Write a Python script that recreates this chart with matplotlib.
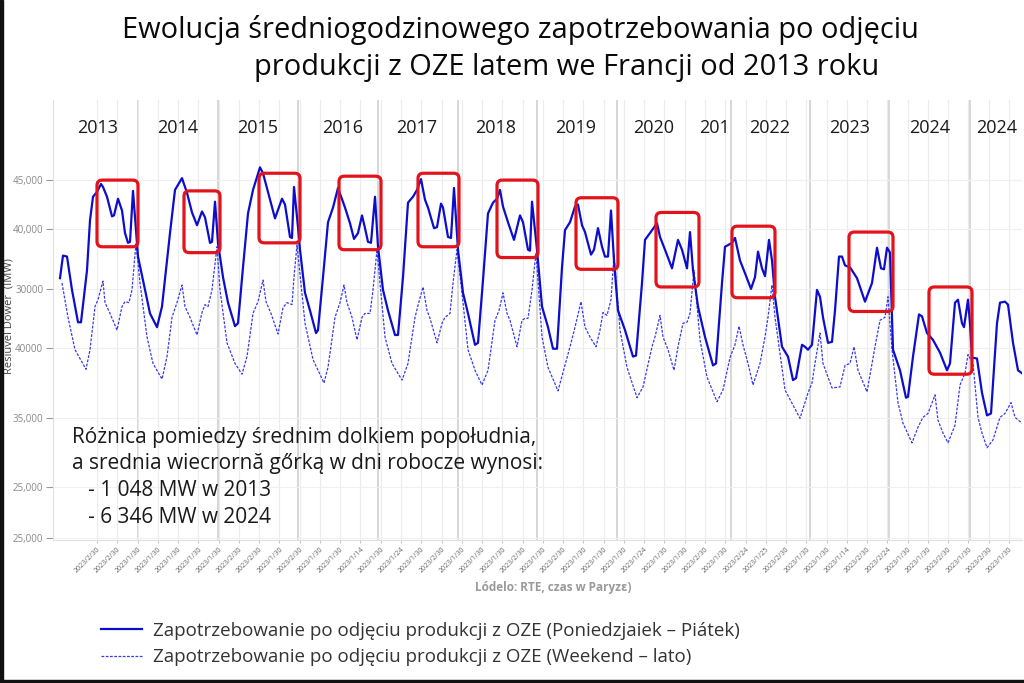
import numpy as np
import matplotlib
matplotlib.use("Agg")
import matplotlib.pyplot as plt
from matplotlib.patches import FancyBboxPatch, Rectangle
from matplotlib.transforms import blended_transform_factory

plt.rcParams['font.family'] = ['Open Sans', 'DejaVu Sans']

# --- dane: godzina (ciagla os czasu) i zapotrzebowanie po odjeciu OZE [MW] ---
# dni robocze (Poniedzialek - Piatek)
godz_robocze = [
    # 2013
    0.6, 1.5, 2.7, 4.2, 6.0, 6.9, 8.7, 9.6, 10.5, 11.7, 12.9, 13.5, 14.7, 16.2, 16.8,
    18.0, 19.2, 20.1, 21.0, 21.6, 22.5, 23.1, 24.0,
    # 2014
    26.1, 27.6, 29.7, 31.2, 33.6, 35.1, 37.2, 38.7, 40.2, 41.7, 43.2, 44.1, 45.6, 46.2,
    47.1, 48.0,
    # 2015
    49.5, 51.0, 53.1, 54.0, 55.5, 57.0, 58.5, 60.6, 61.5, 63.0, 65.1, 67.2, 68.1, 69.6,
    70.2, 70.8, 72.0, 72.6,
    # 2016
    74.1, 75.6, 77.4, 78.0, 79.5, 81.0, 82.5, 84.0, 86.1, 87.6, 88.8, 90.0, 91.2, 92.1,
    93.0, 93.9, 95.1, 96.0,
    # 2017
    97.5, 99.0, 101.1, 102.0, 103.5, 105.0, 106.5, 107.7, 108.9, 110.1, 111.0, 112.8,
    113.7, 114.9, 115.5, 117.0, 117.9, 118.8, 120.0,
    # 2018
    121.5, 123.0, 125.1, 126.0, 127.5, 129.0, 130.5, 131.7, 132.6, 133.5, 135.0, 136.8,
    138.6, 139.5, 141.0, 141.6, 142.2, 143.7,
    # 2019
    145.2, 147.0, 148.5, 149.7, 151.2, 152.1, 153.6, 155.1, 156.0, 157.2, 158.1, 159.9,
    160.8, 162.0, 163.2, 164.1, 165.0, 165.9, 166.8, 168.0,
    # 2020
    170.1, 172.5, 173.4, 175.2, 176.1, 177.6, 179.7, 180.6, 182.1, 184.2, 186.0, 187.2,
    188.7, 189.6, 190.5, 192.0,
    # 2022
    194.1, 196.5, 197.4, 199.2, 200.1, 202.2, 203.1, 204.6, 206.1, 207.9, 209.1, 210.0,
    211.2, 212.1, 213.3, 214.2, 215.1,
    # 2023
    217.2, 219.0, 220.5, 221.4, 223.2, 224.1, 225.0, 226.2, 227.7, 228.6, 229.5, 231.0,
    232.2, 233.1, 234.3, 235.2, 236.1, 237.6, 239.7, 242.1, 244.2, 245.7, 246.9, 247.8,
    248.7, 249.6, 250.5,
    # 2024
    252.6, 254.4, 255.0, 256.5, 258.3, 259.2, 260.7, 262.5, 264.6, 266.7, 267.6, 269.1,
    270.0, 271.2, 271.8, 273.0, 273.6, 274.2, 275.7,
    # 2024 (cd.)
    277.2, 278.7, 279.9, 281.7, 282.6, 284.1, 285.0, 286.5, 288.0, 289.2,
]
mw_robocze = [
    35000, 37300, 37200, 33800, 30500, 30500, 35800, 40900, 43300, 43800, 44600, 44300, 43300,
    41300, 41400, 43100, 41900, 39600, 38600, 38700, 43900, 41200, 37200,
    33800, 31400, 30000, 32100, 39600, 44000, 45200, 43700, 41700, 40400, 41800, 41200, 38600,
    38700, 42800, 38600,
    35100, 32500, 30100, 30400, 36100, 41600, 44000, 46300, 45700, 43800, 41100, 43100, 42500,
    39200, 39100, 44300, 40200, 37900,
    33500, 31700, 29400, 29700, 35100, 40700, 42200, 44200, 42200, 40600, 39000, 39600, 41400,
    40100, 38700, 38600, 43300, 38200,
    33800, 31700, 29200, 29200, 35100, 42700, 43300, 44000, 45100, 43000, 42200, 40100, 40200,
    42600, 42200, 39200, 39100, 44200, 37900,
    33500, 31400, 28200, 28400, 34800, 41600, 42700, 43100, 44000, 42300, 40700, 38900, 41400,
    40700, 37900, 37800, 42800, 37900,
    32100, 30000, 27800, 27800, 36100, 39900, 40700, 42300, 42500, 40400, 39700, 37400, 37900,
    40100, 38200, 37200, 37200, 41900, 36800, 31700,
    29700, 27000, 27100, 34500, 38900, 39600, 40600, 39200, 37900, 36000, 38900, 37900, 36000,
    39700, 35800, 32100,
    29000, 26100, 26300, 34500, 38200, 38600, 39100, 36800, 35500, 33900, 35100, 37700, 36000,
    35200, 38900, 36800, 33100,
    28000, 27000, 24600, 24800, 28200, 28000, 27700, 28200, 33800, 33100, 31000, 28400, 28500,
    31700, 37200, 37200, 36300, 36100, 35000, 32600, 34500, 38100, 36000, 35900, 38100, 37600,
    27700,
    25600, 22800, 22900, 27000, 31300, 31100, 29400, 28700, 27400, 25600, 26300, 32500, 32800,
    30400, 30000, 32800, 30400, 26900, 26800,
    23300, 21000, 21200, 30400, 32500, 32600, 32300, 28400, 25600, 25300,
]

# weekend (lato)
godz_weekend = [
    1.2, 3.0, 5.1, 8.4, 9.6, 11.1, 12.0, 13.5, 14.1, 15.6, 17.7, 19.2, 20.1, 21.3, 22.2, 23.4,
    24.6,
    26.7, 28.5, 31.2, 32.7, 34.2, 35.7, 37.2, 38.1, 39.6, 41.7, 43.2, 44.1, 45.0, 46.2, 47.7,
    48.6,
    50.7, 53.1, 55.2, 56.7, 58.5, 60.0, 61.5, 62.4, 63.9, 66.0, 67.5, 68.7, 70.2, 70.8, 71.7,
    74.1, 76.5, 79.8, 81.0, 83.1, 84.6, 85.8, 86.7, 88.2, 89.7, 91.2, 92.1, 93.6, 94.5, 95.7,
    96.6,
    98.1, 100.2, 103.2, 105.0, 107.1, 108.3, 109.5, 110.7, 111.6, 113.7, 115.2, 116.1, 117.6,
    118.5, 119.7, 121.2,
    123.0, 125.1, 127.2, 129.0, 131.1, 132.3, 133.5, 134.7, 135.6, 137.7, 139.2, 140.1, 141.0,
    142.2, 143.4,
    145.2, 147.0, 150.0, 153.6, 155.1, 156.9, 158.1, 159.6, 161.4, 162.6, 163.5, 164.7, 165.9,
    166.8,
    168.6, 170.7, 173.7, 175.5, 178.2, 179.1, 180.6, 181.5, 183.0, 184.8, 186.0, 187.5, 188.7,
    189.6, 190.8,
    192.6, 194.7, 197.7, 199.5, 201.6, 203.1, 204.3, 205.5, 207.0, 208.5, 210.6, 212.1, 213.0,
    214.2, 215.1,
    218.1, 222.6, 225.0, 226.2, 227.1, 228.6, 229.5, 232.2, 234.6, 236.1, 237.6, 238.8, 240.0,
    242.7, 245.1, 246.6, 248.1, 249.0,
    250.2, 252.0, 253.5, 256.2, 258.0, 259.5, 261.0, 263.1, 264.0, 265.5, 267.0, 269.1, 270.6,
    272.1, 273.0, 274.5,
    276.0, 277.2, 278.7, 280.5, 282.6, 284.1, 285.9, 287.1, 289.2,
]
mw_weekend = [
    34500, 31000, 27700, 25700, 27700, 32100, 32800, 34700, 32500, 31400, 29700, 32100, 32600,
    32500, 33800, 38600, 34500,
    29000, 26300, 24700, 27000, 31000, 32500, 34300, 32100, 31000, 29200, 31500, 32300, 32100,
    33800, 38200, 33800,
    28400, 26300, 25200, 27000, 31400, 32600, 34800, 32600, 31400, 29300, 32000, 32500, 32300,
    35100, 38400,
    30400, 26700, 24300, 25900, 31000, 32500, 34300, 32500, 31000, 28700, 31000, 31400, 31400,
    33800, 37900, 34500,
    29000, 26300, 24600, 26300, 31000, 32600, 34100, 31700, 30900, 28400, 30400, 31000, 31400,
    34500, 37900, 33500,
    27700, 25600, 24100, 25600, 30700, 31700, 33500, 31400, 30700, 28000, 30700, 30900, 30900,
    33800, 37600,
    29000, 25900, 23500, 28000, 30000, 32600, 30000, 29000, 28000, 29700, 31500, 31200, 32800,
    37400,
    29700, 25900, 22800, 23900, 28000, 29000, 31200, 29000, 27700, 25600, 28000, 30400, 30500,
    31400, 35800,
    28700, 24900, 22400, 23600, 26900, 28200, 30100, 28200, 26300, 24100, 26300, 29000, 31000,
    34300, 31000,
    23600, 20700, 23300, 24300, 26300, 29400, 26300, 23800, 23900, 26100, 26300, 28000, 25600,
    23400, 28000, 30700, 31000, 33100,
    27700, 22300, 20200, 18200, 19800, 20800, 21200, 23100, 20500, 19200, 18200, 20000, 24100,
    25300, 27200, 26300,
    20800, 19200, 17700, 18500, 20800, 21200, 22300, 20800, 20200,
]

lata = ["2013", "2014", "2015", "2016", "2017", "2018", "2019", "2020", "201", "2022",
        "2023", "2024", "2024"]
lata_srodek = [12.0, 36.0, 60.0, 85.5, 107.7, 131.4, 155.4, 178.8, 197.1, 213.6,
               237.6, 261.6, 281.7]
granice_lat = [24.0, 48.0, 72.0, 96.0, 120.0, 143.7, 167.7, 201.9, 225.6, 249.3, 273.6]

# ramki: (godz_od, godz_do, mw_od, mw_do)
ramki = [
    (11.7, 24.0, 38200, 45000), (37.8, 48.6, 37600, 43900), (60.3, 72.6, 38600, 45700),
    (84.3, 96.9, 37900, 45400), (108.0, 120.3, 38200, 45700), (131.7, 144.0, 37100, 45000),
    (155.4, 168.0, 35900, 43200), (179.4, 192.3, 34100, 41700), (202.2, 215.1, 33000, 40300),
    (237.3, 250.5, 31600, 39700), (261.3, 274.2, 25200, 34100),
]

y_ticks = [45000, 40000, 33900, 27900, 20700, 13700, 8500]
y_labels = ["45,000", "40,000", "30000", "40000", "35,000", "25,000", "25,000"]

x_labels = [
    "2023/2/30", "2023/2/30", "2023/1/30", "2023/1/30", "2023/1/30", "2023/1/30",
    "2023/1/30", "2023/2/30", "2023/2/30", "2023/1/30", "2023/2/30", "2023/1/30",
    "2023/1/30", "2023/1/14", "2023/1/30", "2023/1/24", "2023/1/30", "2023/2/30",
    "2023/1/30", "2023/1/30", "2023/1/30", "2023/2/30", "2023/1/30", "2023/2/30",
    "2023/1/30", "2023/1/30", "2023/1/30", "2023/1/24", "2023/1/30", "2023/1/30",
    "2023/2/30", "2023/1/30", "2023/2/24", "2023/1/25", "2023/2/30", "2023/1/30",
    "2023/1/30", "2023/1/14", "2023/2/30", "2023/2/24", "2023/1/30", "2023/1/30",
    "2023/2/30", "2023/1/30", "2023/2/30", "2023/1/30",
]

tekst_linie = [
    "Różnica pomiedzy średnim dolkiem popołudnia,",
    "a srednia wiecrornă gőrką w dni robocze wynosi:",
    "   - 1 048 MW w 2013",
    "   - 6 346 MW w 2024",
]

# --- wykres ---
fig = plt.figure(figsize=(10.24, 6.83), dpi=100)
ax = fig.add_axes([53 / 1024, 1 - 540 / 683, 969 / 1024, 440 / 683])

ax.set_xlim(-1.5, 289.2)
ax.set_ylim(8290, 53170)

x_ticks = np.linspace(11.7, 285.3, len(x_labels))
ax.set_xticks(x_ticks)
ax.set_xticklabels(x_labels, rotation=45, ha='right', va='top', rotation_mode='anchor',
                   fontsize=5, color='#666666')
ax.set_yticks(y_ticks)
ax.set_yticklabels(y_labels, fontsize=7, color='#888888')
ax.tick_params(axis='y', length=5, width=0.8, color='#999999', pad=2)
ax.tick_params(axis='x', length=2.5, width=0.6, color='#bbbbbb', pad=2)

ax.grid(axis='x', color='#ececec', lw=0.8)
ax.grid(axis='y', color='#f0f0f0', lw=0.8)
for s in ['top', 'right']:
    ax.spines[s].set_visible(False)
ax.spines['left'].set_color('#e0e0e0')
ax.spines['bottom'].set_color('#e0e0e0')

for g in granice_lat:
    ax.axvline(g, color='#cccccc', lw=1.1, zorder=1)

tr = blended_transform_factory(ax.transData, ax.transAxes)
for rok, xs in zip(lata, lata_srodek):
    ax.text(xs, 0.936, rok, transform=tr, ha='center', va='center',
            fontsize=13, color='#1a1a1a')

l1, = ax.plot(godz_robocze, mw_robocze, color='#0d0dcc', lw=1.6, zorder=3,
              label="Zapotrzebowanie po odjęciu produkcji z OZE (Poniedzjaiek – Piátek)")
l2, = ax.plot(godz_weekend, mw_weekend, color='#3838f0', lw=0.9, ls=(0, (2.2, 1.2)),
              zorder=2, label="Zapotrzebowanie po odjęciu produkcji z OZE (Weekend – lato)")

for x0, x1, y0, y1 in ramki:
    ax.add_patch(FancyBboxPatch((x0, y0), x1 - x0, y1 - y0,
                                boxstyle="round,pad=0,rounding_size=1.6",
                                mutation_aspect=340, fill=False, ec='#e3131b',
                                lw=2.3, zorder=4))

# tytul
fig.text(520 / 1024, 1 - 30 / 683, "Ewolucja średniogodzinowego zapotrzebowania po odjęciu",
         ha='center', va='center', fontsize=20.9, color='#0a0a0a')
fig.text(567 / 1024, 1 - 67 / 683, "produkcji z OZE latem we Francji od 2013 roku",
         ha='center', va='center', fontsize=20.9, color='#0a0a0a')

fig.text(9 / 1024, 1 - 316 / 683, "Resiüvel Dower  (IMW)", rotation=90,
         ha='center', va='center', fontsize=8, color='#444444')

for i, linia in enumerate(tekst_linie):
    fig.text(72 / 1024, 1 - (437 + 26.7 * i) / 683, linia, ha='left', va='center',
             fontsize=15, color='#1a1a1a')

fig.text(553 / 1024, 1 - 588 / 683, "Lódelo: RTE, czas w Paryzɛ)", ha='center', va='center',
         fontsize=8.5, color='#9a9a9a', weight='bold')

leg = fig.legend(handles=[l1, l2], loc='upper left', bbox_to_anchor=(84 / 1024, 1 - 605 / 683),
                 frameon=False, fontsize=13.5, handlelength=2.2, handletextpad=0.6,
                 labelspacing=0.45)
for t in leg.get_texts():
    t.set_color('#333333')

# ramka obrazka
fig.patches.append(Rectangle((0, 0), 3 / 1024, 1, transform=fig.transFigure,
                             color='#111111', zorder=10))
fig.patches.append(Rectangle((0, 0), 1, 3 / 683, transform=fig.transFigure,
                             color='#111111', zorder=10))

fig.savefig("out.png", dpi=100)
